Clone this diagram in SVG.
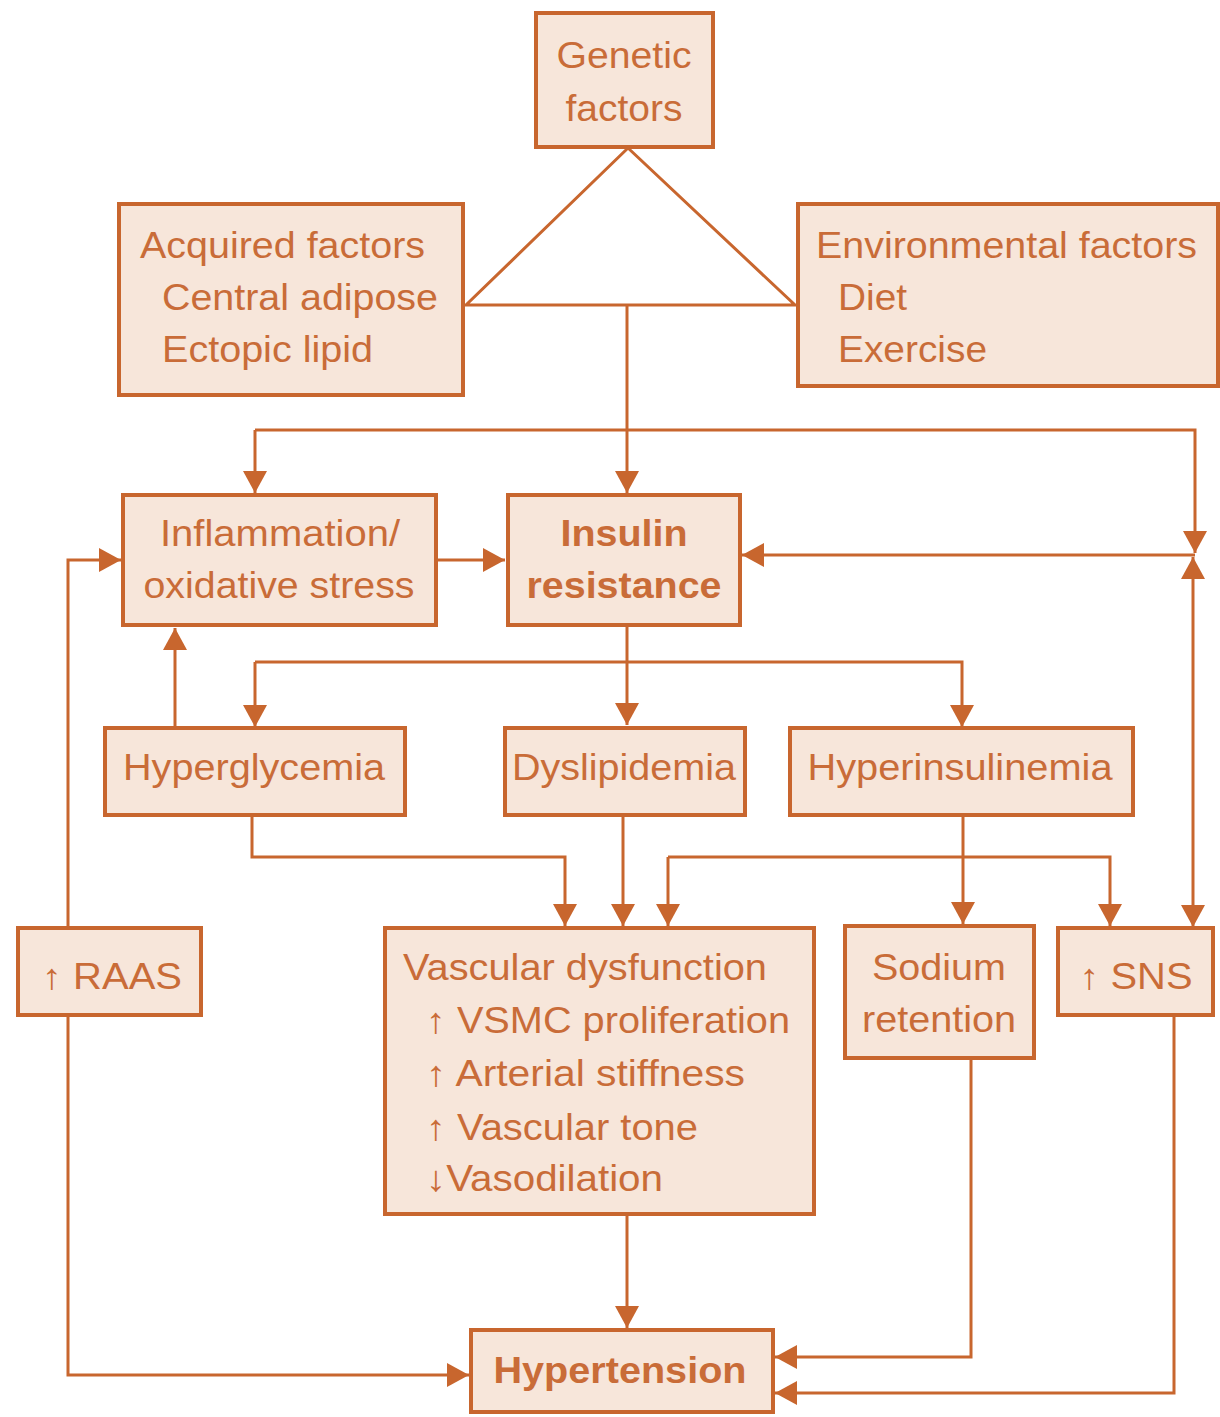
<svg xmlns="http://www.w3.org/2000/svg" width="1220" height="1417" viewBox="0 0 1220 1417">
  <style>
    .box { fill: #F7E6DA; stroke: #C8662E; stroke-width: 4; }
    .lbl { fill: #C96C38; font-family: "Liberation Sans", Arial, sans-serif; font-size: 36px; }
    .mid { text-anchor: middle; }
    .bold { font-weight: bold; }
    .wire { fill: none; stroke: #C8662E; stroke-width: 3; }
  </style>
  <defs>
    <marker id="ah" viewBox="0 0 22 24" refX="22" refY="12" markerWidth="22" markerHeight="24" orient="auto" markerUnits="userSpaceOnUse">
      <path d="M0,0 L22,12 L0,24 Z" fill="#C8662E"/>
    </marker>
  </defs>
  <rect width="1220" height="1417" fill="#FFFFFF"/>

  <!-- connectors -->
  <g id="connectors" class="wire">
    <polygon points="628,148 466,305 795,305"/>
    <path d="M627,305 V493" marker-end="url(#ah)"/>
    <path d="M255,430 H1195 V553" marker-end="url(#ah)"/>
    <path d="M255,430 V493" marker-end="url(#ah)"/>
    <path d="M1195,555 H742" marker-end="url(#ah)"/>
    <path d="M1193,740 V557" marker-end="url(#ah)"/>
    <path d="M1193,740 V927" marker-end="url(#ah)"/>
    <path d="M437,560 H505" marker-end="url(#ah)"/>
    <path d="M68,928 V560 H121" marker-end="url(#ah)"/>
    <path d="M627,625 V725" marker-end="url(#ah)"/>
    <path d="M255,662 H962 V727" marker-end="url(#ah)"/>
    <path d="M255,662 V727" marker-end="url(#ah)"/>
    <path d="M175,728 V628" marker-end="url(#ah)"/>
    <path d="M252,815 V857 H565 V926" marker-end="url(#ah)"/>
    <path d="M623,815 V926" marker-end="url(#ah)"/>
    <path d="M963,815 V924" marker-end="url(#ah)"/>
    <path d="M668,857 H1110 V926" marker-end="url(#ah)"/>
    <path d="M668,857 V926" marker-end="url(#ah)"/>
    <path d="M627,1213 V1328" marker-end="url(#ah)"/>
    <path d="M68,1015 V1375 H469" marker-end="url(#ah)"/>
    <path d="M971,1058 V1357 H775" marker-end="url(#ah)"/>
    <path d="M1174,1015 V1393 H775" marker-end="url(#ah)"/>
  </g>

  <g id="genetic">
    <rect class="box" x="536" y="13" width="177" height="134"/>
    <text class="lbl mid" x="624" y="68" textLength="135" lengthAdjust="spacingAndGlyphs">Genetic</text>
    <text class="lbl mid" x="624" y="121" textLength="117" lengthAdjust="spacingAndGlyphs">factors</text>
  </g>

  <g id="acquired">
    <rect class="box" x="119" y="204" width="344" height="191"/>
    <text class="lbl" x="140" y="258" textLength="285" lengthAdjust="spacingAndGlyphs">Acquired factors</text>
    <text class="lbl" x="162" y="310" textLength="276" lengthAdjust="spacingAndGlyphs">Central adipose</text>
    <text class="lbl" x="162" y="362" textLength="211" lengthAdjust="spacingAndGlyphs">Ectopic lipid</text>
  </g>

  <g id="environmental">
    <rect class="box" x="798" y="204" width="420" height="182"/>
    <text class="lbl" x="816" y="258" textLength="381" lengthAdjust="spacingAndGlyphs">Environmental factors</text>
    <text class="lbl" x="838" y="310" textLength="69" lengthAdjust="spacingAndGlyphs">Diet</text>
    <text class="lbl" x="838" y="362" textLength="149" lengthAdjust="spacingAndGlyphs">Exercise</text>
  </g>

  <g id="inflammation">
    <rect class="box" x="123" y="495" width="313" height="130"/>
    <text class="lbl mid" x="280" y="546" textLength="240" lengthAdjust="spacingAndGlyphs">Inflammation/</text>
    <text class="lbl mid" x="279" y="598" textLength="271" lengthAdjust="spacingAndGlyphs">oxidative stress</text>
  </g>

  <g id="insulin">
    <rect class="box" x="508" y="495" width="232" height="130"/>
    <text class="lbl mid bold" x="624" y="546" textLength="127" lengthAdjust="spacingAndGlyphs">Insulin</text>
    <text class="lbl mid bold" x="624" y="598" textLength="195" lengthAdjust="spacingAndGlyphs">resistance</text>
  </g>

  <g id="hyperglycemia">
    <rect class="box" x="105" y="728" width="300" height="87"/>
    <text class="lbl mid" x="254" y="780" textLength="262" lengthAdjust="spacingAndGlyphs">Hyperglycemia</text>
  </g>

  <g id="dyslipidemia">
    <rect class="box" x="505" y="728" width="240" height="87"/>
    <text class="lbl mid" x="624" y="780" textLength="224" lengthAdjust="spacingAndGlyphs">Dyslipidemia</text>
  </g>

  <g id="hyperinsulinemia">
    <rect class="box" x="790" y="728" width="343" height="87"/>
    <text class="lbl mid" x="960" y="780" textLength="305" lengthAdjust="spacingAndGlyphs">Hyperinsulinemia</text>
  </g>

  <g id="raas">
    <rect class="box" x="18" y="928" width="183" height="87"/>
    <text class="lbl mid" x="112" y="989" textLength="140" lengthAdjust="spacingAndGlyphs">↑ RAAS</text>
  </g>

  <g id="vascular">
    <rect class="box" x="385" y="928" width="429" height="286"/>
    <text class="lbl" x="403" y="980" textLength="364" lengthAdjust="spacingAndGlyphs">Vascular dysfunction</text>
    <text class="lbl" x="426" y="1033" textLength="364" lengthAdjust="spacingAndGlyphs">↑ VSMC proliferation</text>
    <text class="lbl" x="426" y="1086" textLength="319" lengthAdjust="spacingAndGlyphs">↑ Arterial stiffness</text>
    <text class="lbl" x="426" y="1140" textLength="272" lengthAdjust="spacingAndGlyphs">↑ Vascular tone</text>
    <text class="lbl" x="426" y="1191" textLength="237" lengthAdjust="spacingAndGlyphs">↓Vasodilation</text>
  </g>

  <g id="sodium">
    <rect class="box" x="845" y="926" width="189" height="132"/>
    <text class="lbl mid" x="939" y="980" textLength="134" lengthAdjust="spacingAndGlyphs">Sodium</text>
    <text class="lbl mid" x="939" y="1032" textLength="154" lengthAdjust="spacingAndGlyphs">retention</text>
  </g>

  <g id="sns">
    <rect class="box" x="1058" y="928" width="155" height="87"/>
    <text class="lbl mid" x="1136" y="989" textLength="113" lengthAdjust="spacingAndGlyphs">↑ SNS</text>
  </g>

  <g id="hypertension">
    <rect class="box" x="471" y="1330" width="302" height="82"/>
    <text class="lbl mid bold" x="620" y="1383" textLength="253" lengthAdjust="spacingAndGlyphs">Hypertension</text>
  </g>
</svg>
